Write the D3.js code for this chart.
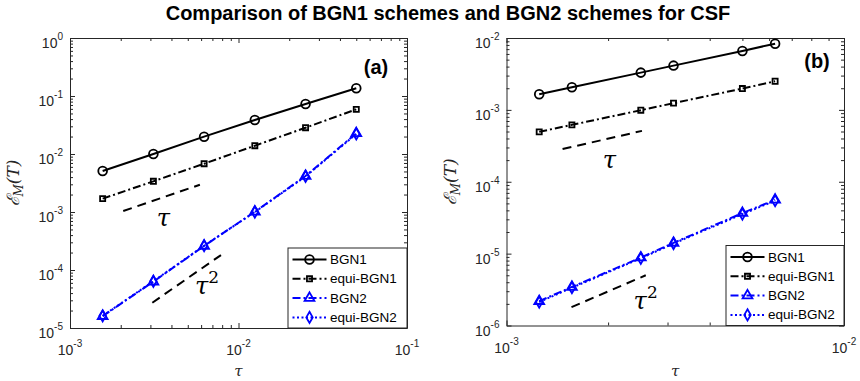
<!DOCTYPE html>
<html>
<head>
<meta charset="utf-8">
<script src="https://cdn.jsdelivr.net/npm/d3@7"></script>
<style>
  body { margin: 0; background: #fff; }
  svg { display: block; }
  .tick text { display: none; }
</style>
</head>
<body>
<svg id="chart" width="860" height="381"></svg>
<script>
// step sizes and errors, panel (a)
var tauA = [1/640, 1/320, 1/160, 1/80, 1/40, 1/20];
var bgn1A = [0.0051, 0.0100, 0.0199, 0.0386, 0.0728, 0.136];
var equiBgn1A = [0.0017, 0.00338, 0.0068, 0.0139, 0.0284, 0.0589];
var bgn2A = [1.6e-5, 6.3e-5, 2.6e-4, 1.01e-3, 4.18e-3, 0.0227];
var equiBgn2A = [1.62e-5, 6.4e-5, 2.62e-4, 1.0e-3, 4.1e-3, 0.0222];
var refTau1A = [[2.07e-3, 1.04e-3], [5.9e-3, 2.95e-3]];
var refTau2A = [[3.08e-3, 2.73e-5], [7.87e-3, 1.81e-4]];

// panel (b)
var tauB = [1/800, 1/640, 1/400, 1/320, 1/200, 1/160];
var bgn1B = [1.65e-3, 2.07e-3, 3.3e-3, 4.13e-3, 6.6e-3, 8.34e-3];
var equiBgn1B = [4.95e-4, 6.19e-4, 9.89e-4, 1.24e-3, 1.98e-3, 2.5e-3];
var bgn2B = [2.18e-6, 3.44e-6, 8.8e-6, 1.41e-5, 3.67e-5, 5.6e-5];
var equiBgn2B = [2.12e-6, 3.36e-6, 8.6e-6, 1.38e-5, 3.55e-5, 5.45e-5];
var refTau1B = [[1.466e-3, 2.85e-4], [2.52e-3, 5.1e-4]];
var refTau2B = [[1.558e-3, 1.8e-6], [2.586e-3, 5.0e-6]];

// tick exponents
var xExpA = [-3, -2, -1], yExpA = [-5, -4, -3, -2, -1, 0];
var xExpB = [-3, -2], yExpB = [-6, -5, -4, -3, -2];

var seriesNames = ["BGN1", "equi-BGN1", "BGN2", "equi-BGN2"];

var styles = [
  {color: "#000", dash: null, symbol: d3.symbolCircle, size: 60},
  {color: "#000", dash: "8,3,2,3", symbol: d3.symbolSquare, size: 26},
  {color: "#0000ff", dash: "8,3,2,3", symbol: d3.symbolTriangle, size: 42},
  {color: "#0000ff", dash: "2,2.5", symbol: d3.symbolDiamond, size: 36}
];

var svg = d3.select("#chart");
var axisColor = "#262626";
var sans = "'Liberation Sans', Arial, Helvetica, sans-serif";
var serif = "'DejaVu Serif', 'Liberation Serif', serif";

svg.append("text")
    .attr("x", 448).attr("y", 20)
    .attr("text-anchor", "middle")
    .attr("font-family", sans).attr("font-weight", "bold").attr("font-size", 20)
    .text("Comparison of BGN1 schemes and BGN2 schemes for CSF");

function minors(exps) {
  var out = [];
  for (var i = 0; i < exps.length - 1; i++)
    for (var m = 2; m <= 9; m++) out.push(m * Math.pow(10, exps[i]));
  return out;
}

function panel(p) {
  var x = d3.scaleLog().domain(p.xDom).range([p.x0, p.x1]);
  var y = d3.scaleLog().domain(p.yDom).range([p.y1, p.y0]);
  var g = svg.append("g");

  var xMaj = p.xExp.map(function(e) { return Math.pow(10, e); });
  var yMaj = p.yExp.map(function(e) { return Math.pow(10, e); });

  // box + inward ticks on all four sides
  [
    [d3.axisBottom(x), "translate(0," + p.y1 + ")", xMaj, minors(p.xExp)],
    [d3.axisTop(x), "translate(0," + p.y0 + ")", xMaj, minors(p.xExp)],
    [d3.axisLeft(y), "translate(" + p.x0 + ",0)", yMaj, minors(p.yExp)],
    [d3.axisRight(y), "translate(" + p.x1 + ",0)", yMaj, minors(p.yExp)]
  ].forEach(function(a) {
    g.append("g").attr("transform", a[1])
        .call(a[0].tickValues(a[3]).tickSize(-3).tickSizeOuter(0).tickFormat(""))
        .call(function(s) { s.select(".domain").remove(); });
    g.append("g").attr("transform", a[1])
        .call(a[0].tickValues(a[2]).tickSize(-5).tickSizeOuter(0).tickFormat(""));
  });
  g.selectAll(".domain, .tick line").attr("stroke", axisColor);

  // tick labels 10^k
  p.yExp.forEach(function(e) {
    var t = g.append("text")
        .attr("x", p.x0 - 7).attr("y", y(Math.pow(10, e)) + 10)
        .attr("text-anchor", "end")
        .attr("font-family", sans).attr("font-size", 14).attr("fill", axisColor);
    t.append("tspan").text("10");
    t.append("tspan").attr("dy", -8).attr("font-size", 10).text(e);
  });
  p.xExp.forEach(function(e) {
    var t = g.append("text")
        .attr("x", x(Math.pow(10, e))).attr("y", p.y1 + 27)
        .attr("text-anchor", "middle")
        .attr("font-family", sans).attr("font-size", 14).attr("fill", axisColor);
    t.append("tspan").text("10");
    t.append("tspan").attr("dy", -8).attr("font-size", 10).text(e);
  });

  // axis titles
  g.append("text")
      .attr("x", (p.x0 + p.x1) / 2).attr("y", 376)
      .attr("text-anchor", "middle")
      .attr("font-family", serif).attr("font-style", "italic").attr("font-size", 15)
      .attr("fill", axisColor)
      .text("τ");
  var yl = g.append("text")
      .attr("transform", "translate(" + p.ylabX + "," + (p.y0 + p.y1) / 2 + ") rotate(-90)")
      .attr("text-anchor", "middle")
      .attr("font-family", serif).attr("font-style", "italic").attr("font-size", 17)
      .attr("fill", axisColor);
  yl.append("tspan").text("ℰ");
  yl.append("tspan").attr("dy", 4).attr("font-size", 12).text("M");
  yl.append("tspan").attr("dy", -4).text("(T)");

  // reference slopes
  var line = d3.line().x(function(d) { return x(d[0]); }).y(function(d) { return y(d[1]); });
  [p.ref1, p.ref2].forEach(function(r) {
    g.append("path").attr("d", line(r))
        .attr("fill", "none").attr("stroke", "#000").attr("stroke-width", 2)
        .attr("stroke-dasharray", "9,6");
  });
  g.append("text")
      .attr("x", x(p.lab1[0])).attr("y", y(p.lab1[1]))
      .attr("font-family", serif).attr("font-style", "italic").attr("font-size", 24)
      .text("τ");
  var t2 = g.append("text")
      .attr("x", x(p.lab2[0])).attr("y", y(p.lab2[1]))
      .attr("font-family", serif).attr("font-style", "italic").attr("font-size", 24);
  t2.append("tspan").text("τ");
  t2.append("tspan").attr("dy", -11).attr("font-size", 17).attr("font-style", "normal").text("2");

  // series
  p.series.forEach(function(vals, i) {
    var st = styles[i];
    var pts = p.tau.map(function(t, j) { return [t, vals[j]]; });
    g.append("path").attr("d", line(pts))
        .attr("fill", "none").attr("stroke", st.color).attr("stroke-width", 2)
        .attr("stroke-dasharray", st.dash);
    g.selectAll(null).data(pts).enter().append("path")
        .attr("transform", function(d) { return "translate(" + x(d[0]) + "," + y(d[1]) + ")"; })
        .attr("d", d3.symbol().type(st.symbol).size(st.size))
        .attr("fill", "none").attr("stroke", st.color).attr("stroke-width", 1.8);
  });

  // panel tag
  g.append("text")
      .attr("x", p.tag[0]).attr("y", p.tag[1])
      .attr("text-anchor", "middle")
      .attr("font-family", sans).attr("font-weight", "bold").attr("font-size", 20)
      .text(p.name);

  // legend
  var lx = p.x1 - p.legW, ly = p.y1 - 80;
  var leg = g.append("g").attr("transform", "translate(" + lx + "," + ly + ")");
  leg.append("rect").attr("width", p.legW).attr("height", 80)
      .attr("fill", "#fff").attr("stroke", axisColor).attr("stroke-width", 1);
  seriesNames.forEach(function(name, i) {
    var st = styles[i], ry = 11.5 + i * 19.3;
    leg.append("line").attr("x1", 4.5).attr("x2", 38.5).attr("y1", ry).attr("y2", ry)
        .attr("stroke", st.color).attr("stroke-width", 2).attr("stroke-dasharray", st.dash);
    leg.append("path").attr("transform", "translate(21.5," + ry + ")")
        .attr("d", d3.symbol().type(st.symbol).size(st.size))
        .attr("fill", "none").attr("stroke", st.color).attr("stroke-width", 1.8);
    leg.append("text").attr("x", 42).attr("y", ry + 4.5)
        .attr("font-family", sans).attr("font-size", 13.5).attr("fill", "#000")
        .text(name);
  });
}

panel({
  name: "(a)", x0: 70, x1: 407, y0: 38, y1: 328,
  xDom: [1e-3, 1e-1], yDom: [1e-5, 1], xExp: xExpA, yExp: yExpA,
  tau: tauA, series: [bgn1A, equiBgn1A, bgn2A, equiBgn2A],
  ref1: refTau1A, ref2: refTau2A,
  lab1: [3.27e-3, 5.74e-4], lab2: [5.52e-3, 3.8e-5],
  tag: [376, 74], ylabX: 19, legW: 119
});

panel({
  name: "(b)", x0: 506.5, x1: 844, y0: 38, y1: 325.5,
  xDom: [1e-3, 1e-2], yDom: [1e-6, 1e-2], xExp: xExpB, yExp: yExpB,
  tau: tauB, series: [bgn1B, equiBgn1B, bgn2B, equiBgn2B],
  ref1: refTau1B, ref2: refTau2B,
  lab1: [1.929e-3, 1.565e-4], lab2: [2.38e-3, 1.67e-6],
  tag: [817, 68], ylabX: 456, legW: 118
});
</script>
</body>
</html>
